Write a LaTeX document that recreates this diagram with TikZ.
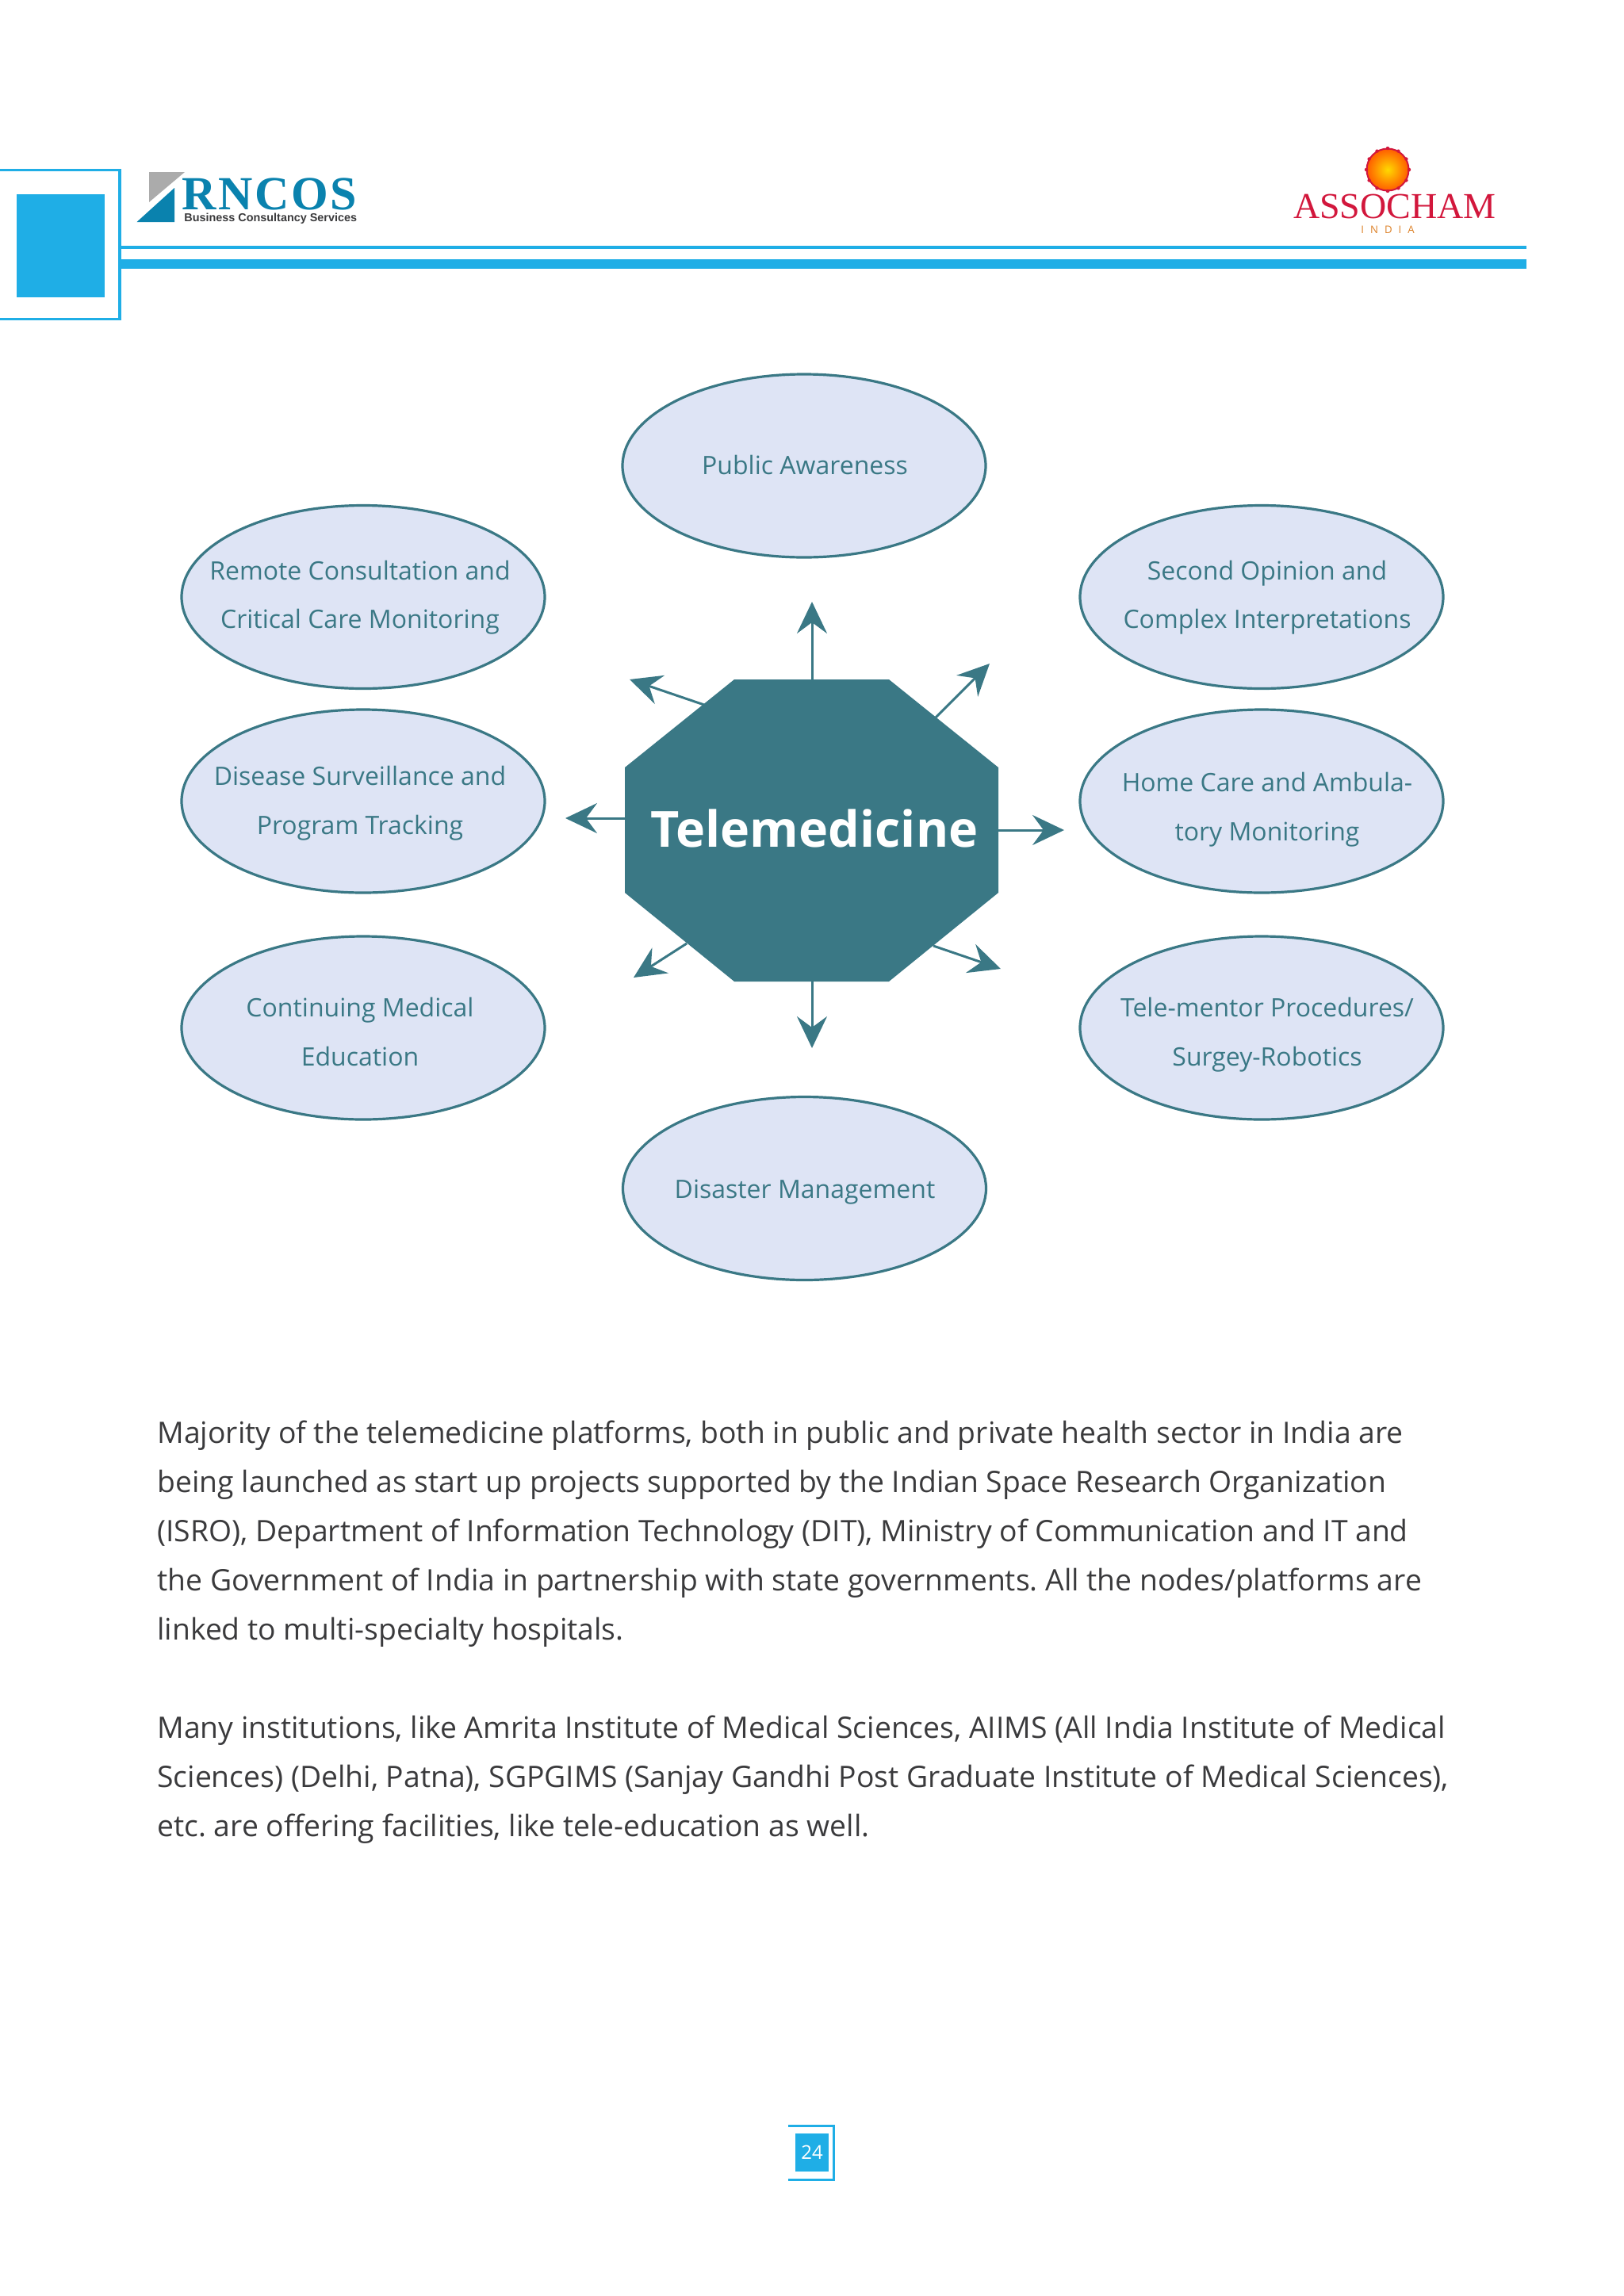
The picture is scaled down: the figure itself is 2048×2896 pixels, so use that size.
\documentclass[tikz,border=0pt]{standalone}
\usepackage{fontspec}
\setmainfont{Open Sans}
\newfontfamily\logoserif{Liberation Serif}
\newfontfamily\logosans{Liberation Sans}
\usetikzlibrary{arrows.meta,shapes.geometric}
\frenchspacing
\definecolor{pagecyan}{HTML}{1FAEE6}
\definecolor{hubteal}{HTML}{3A7885}
\definecolor{bubblefill}{HTML}{DEE4F5}
\definecolor{bodygrey}{HTML}{3A3A3C}
\definecolor{rncosblue}{HTML}{0A82AE}
\definecolor{assored}{HTML}{D2173C}
\definecolor{assoorange}{HTML}{DC8026}
\tikzset{
	bubble/.style={ellipse, draw=hubteal, fill=bubblefill, line width=1.6pt, minimum width=458*0.5pt, minimum height=231*0.5pt, inner sep=0pt},
	bubbletext/.style={text=hubteal, font=\fontsize{16}{20}\selectfont, anchor=base, inner sep=0pt},
	spoke/.style={-{Stealth[length=20pt, width=19pt, inset=7pt]}, hubteal, line width=1.5pt},
	bodytext/.style={text=bodygrey, font=\fontsize{18.65}{30.9}\selectfont, align=left, anchor=north west, inner sep=0pt},
}
\begin{document}
\begin{tikzpicture}[x=0.5pt,y=-0.5pt]
	\useasboundingbox (0,0) rectangle (2048,2896);
	% page frame and rules
	\draw[pagecyan, line width=1.7pt] (-10,214.5) -- (151,214.5) -- (151,402.5) -- (-10,402.5);
	\fill[pagecyan] (21,245) rectangle (132,375);
	\fill[pagecyan] (152,310) rectangle (1925,313.5);
	\fill[pagecyan] (152,327) rectangle (1925,339);
	% logo on the left
	\fill[black!33] (188,217) -- (233,217) -- (188,255) -- cycle;
	\fill[rncosblue] (220,237) -- (220,280) -- (172.5,280) -- cycle;
	\node[anchor=base west, inner sep=0pt, text=rncosblue] (rncos) at (229,264) {\logoserif\bfseries\addfontfeature{LetterSpace=4.5}\fontsize{30}{30}\selectfont RNCOS};
	\node[anchor=base west, inner sep=0pt, text=bodygrey] (rncossub) at (232,279) {\logosans\bfseries\fontsize{7.2}{8}\selectfont Business Consultancy Services};
	% logo on the right
	\shade[inner color=yellow!70!orange, outer color=orange!75!red] (1750,214) circle (26);
	\draw[assored, line width=1pt] (1750,214) circle (26.5);
	\foreach \a in {0,30,...,330}
	{
		\fill[assored] (1750,214) ++(\a:27) circle (1.1pt);
	}
	\node[anchor=base, inner sep=0pt, text=assored] (asso) at (1759,275) {\logoserif\fontsize{23}{24}\selectfont ASSOCHAM};
	\node[anchor=base, inner sep=0pt, text=assoorange] (india) at (1750,294) {\fontsize{6.6}{8}\selectfont I\hspace{4pt}N\hspace{4pt}D\hspace{4pt}I\hspace{4pt}A};
	% arrows behind the octagon
	\foreach \n/\sx/\sy/\ex/\ey in {up/1024/857/1024/759, ne/1180/905/1248/837, nw/888/889/794/857, w/788/1032/713/1032, e/1259/1047/1342/1047, sw/866/1190/799/1233, se/1177/1193/1262/1222, dn/1024/1237/1024/1322}
	{
		\coordinate (s\n) at (\sx,\sy);
		\coordinate (e\n) at (\ex,\ey);
		\draw[spoke] (s\n) -- (e\n);
	}
	% octagon
	\fill[hubteal] (926,857) -- (1121,857) -- (1259,968) -- (1259,1126) -- (1121,1238) -- (926,1238) -- (788,1126) -- (788,968) -- cycle;
	\node[anchor=base, inner sep=0pt, text=white] (hub) at (1027,1068) {\fontsize{31.4}{36}\selectfont\bfseries Telemedicine};
	% ellipses
	\node[bubble] (aware) at (1014,587.5) {};
	\node[bubble] (remote) at (458,753) {};
	\node[bubble] (second) at (1591,753) {};
	\node[bubble] (disease) at (458,1010.5) {};
	\node[bubble] (homecare) at (1591,1010.5) {};
	\node[bubble] (cme) at (458,1296.5) {};
	\node[bubble] (mentor) at (1591,1296.5) {};
	\node[bubble] (disaster) at (1014.5,1499) {};
	% ellipse labels
	\node[bubbletext] (awaretxt) at (1015,598) {Public Awareness};
	\node[bubbletext] (remotea) at (454,731) {Remote Consultation and};
	\node[bubbletext] (remoteb) at (454,792) {Critical Care Monitoring};
	\node[bubbletext] (seconda) at (1598,731) {Second Opinion and};
	\node[bubbletext] (secondb) at (1598,792) {Complex Interpretations};
	\node[bubbletext] (diseasea) at (454,990) {Disease Surveillance and};
	\node[bubbletext] (diseaseb) at (454,1052) {Program Tracking};
	\node[bubbletext] (homea) at (1598,998) {Home Care and Ambula-};
	\node[bubbletext] (homeb) at (1598,1060) {tory Monitoring};
	\node[bubbletext] (cmea) at (454,1282) {Continuing Medical};
	\node[bubbletext] (cmeb) at (454,1344) {Education};
	\node[bubbletext] (mentora) at (1598,1282) {Tele-mentor Procedures/};
	\node[bubbletext] (mentorb) at (1598,1344) {Surgey-Robotics};
	\node[bubbletext] (disastertxt) at (1015,1511) {Disaster Management};
	% body text
	\node[bodytext] (parone) at (198,1792) {Majority of the telemedicine platforms, both in public and private health sector in India are\\
		being launched as start up projects supported by the Indian Space Research Organization\\
		(ISRO), Department of Information Technology (DIT), Ministry of Communication and IT and\\
		the Government of India in partnership with state governments. All the nodes/platforms are\\
		linked to multi-specialty hospitals.};
	\node[bodytext] (partwo) at (198,2164) {Many institutions, like Amrita Institute of Medical Sciences, AIIMS (All India Institute of Medical\\
		Sciences) (Delhi, Patna), SGPGIMS (Sanjay Gandhi Post Graduate Institute of Medical Sciences),\\
		etc. are offering facilities, like tele-education as well.};
	% page number
	\draw[pagecyan, line width=1.5pt] (994,2681) -- (1051,2681) -- (1051,2749) -- (994,2749);
	\node[fill=pagecyan, text=white, minimum width=42*0.5pt, minimum height=48*0.5pt, inner sep=0pt, font=\fontsize{12}{14}\selectfont] (pageno) at (1024,2715) {24};
\end{tikzpicture}
\end{document}
